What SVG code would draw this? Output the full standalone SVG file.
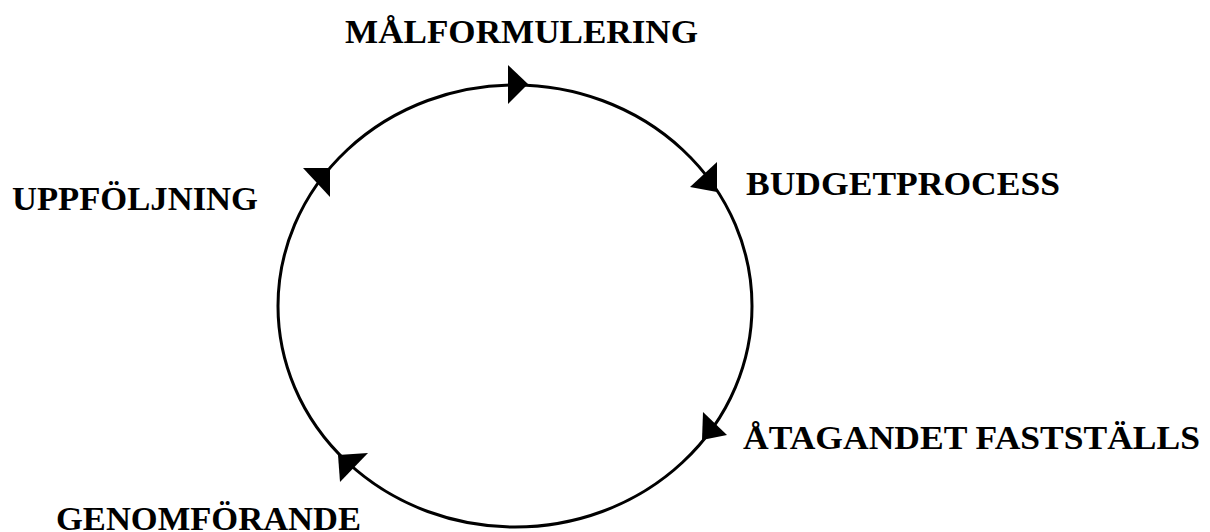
<svg xmlns="http://www.w3.org/2000/svg" width="1210" height="532" viewBox="0 0 1210 532">
  <style>
    .lbl { font-family: "Liberation Serif", "Times New Roman", serif; font-weight: bold; font-size: 34px; fill: #000; }
    .ring { fill: none; stroke: #000; stroke-width: 3; }
    .head { fill: #000; stroke: none; }
  </style>
  <rect width="1210" height="532" fill="#fff"/>

  <!-- cycle ring and direction arrowheads -->
  <g id="connectors">
    <ellipse class="ring" cx="515" cy="306" rx="237" ry="221"/>
    <polygon class="head" points="528,84 508,65 508,104"/>
    <polygon class="head" points="717,192 717,162 690,187"/>
    <polygon class="head" points="702,440 703,412 727,435"/>
    <polygon class="head" points="338,455 368,453 340,482"/>
    <polygon class="head" points="330,168 303,168 330,197"/>
  </g>

  <g id="malformulering">
    <text class="lbl" x="345" y="43" textLength="353" lengthAdjust="spacingAndGlyphs">MÅLFORMULERING</text>
  </g>
  <g id="budgetprocess">
    <text class="lbl" x="746" y="195" textLength="314" lengthAdjust="spacingAndGlyphs">BUDGETPROCESS</text>
  </g>
  <g id="atagandet">
    <text class="lbl" x="743" y="449" textLength="457" lengthAdjust="spacingAndGlyphs">ÅTAGANDET FASTSTÄLLS</text>
  </g>
  <g id="genomforande">
    <text class="lbl" x="56" y="530" textLength="305" lengthAdjust="spacingAndGlyphs">GENOMFÖRANDE</text>
  </g>
  <g id="uppfoljning">
    <text class="lbl" x="12" y="210" textLength="246" lengthAdjust="spacingAndGlyphs">UPPFÖLJNING</text>
  </g>
</svg>
